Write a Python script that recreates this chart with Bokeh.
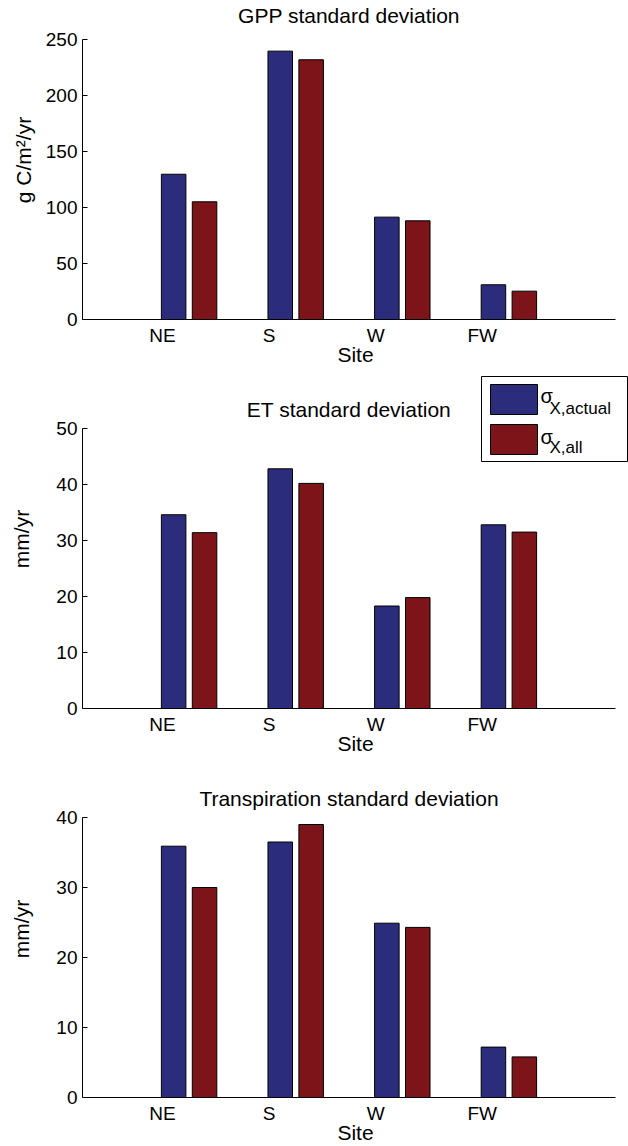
from bokeh.plotting import figure
from bokeh.models import Range1d, FixedTicker, Label, ColumnDataSource
from bokeh.layouts import column
from bokeh.embed import file_html
from bokeh.resources import INLINE

# ---------------- data ----------------
sites = ["NE", "S", "W", "FW"]
gpp_actual = [129.7, 239.6, 91.4, 31.0]
gpp_all = [105.1, 231.9, 88.1, 25.3]
et_actual = [34.6, 42.8, 18.3, 32.8]
et_all = [31.4, 40.2, 19.8, 31.5]
tr_actual = [35.9, 36.5, 24.9, 7.2]
tr_all = [30.0, 39.0, 24.3, 5.8]
series_names = ["X,actual", "X,all"]
gpp_ticks = [0, 50, 100, 150, 200, 250]
et_ticks = [0, 10, 20, 30, 40, 50]
tr_ticks = [0, 10, 20, 30, 40]

BLUE = "#2B2D7C"
RED = "#7D1419"
FONT = "Liberation Sans"
W = 628
FRAME_L = 82          # left edge of the data area
DATA_W = 533          # width of the data area (x 0..5)
DATA_H = 280          # height of the data area (y 0..ymax)
XMAX = 5.0
XPX = DATA_W / XMAX   # pixels per x unit
XEND = (W - FRAME_L) / XPX


def make_panel(title, ylabel, actual, allv, ticks, height, top, bottom,
               ylabel_standoff, title_px):
    """top = pixels between figure top and the top of the data area (ymax)."""
    ymax = ticks[-1]
    upp = ymax / DATA_H  # data units per pixel
    p = figure(width=W, height=height, x_range=Range1d(0, XEND),
               y_range=Range1d(0, ymax + top * upp), output_backend="svg",
               toolbar_location=None, min_border_left=FRAME_L,
               min_border_right=0, min_border_top=0,
               min_border_bottom=bottom, title=None)
    p.outline_line_color = None
    p.grid.visible = False
    p.background_fill_color = "white"
    p.border_fill_color = "white"

    xpos = [i + 1 for i in range(len(sites))]
    src = ColumnDataSource(dict(
        xa=[x - 0.145 for x in xpos], xb=[x + 0.145 for x in xpos],
        a=actual, b=allv))
    p.vbar(x="xa", top="a", bottom=0, width=0.23, source=src,
           fill_color=BLUE, line_color="black", line_width=1)
    p.vbar(x="xb", top="b", bottom=0, width=0.23, source=src,
           fill_color=RED, line_color="black", line_width=1)

    # x axis
    xa = p.xaxis[0]
    tick_pos = [x - 0.25 for x in xpos]
    xa.bounds = (0, XMAX)
    xa.ticker = FixedTicker(ticks=tick_pos)
    xa.major_label_overrides = {t: s for t, s in zip(tick_pos, sites)}
    xa.major_tick_in = 0
    xa.major_tick_out = 0
    xa.minor_tick_in = 0
    xa.minor_tick_out = 0
    xa.major_label_standoff = 5
    xa.major_label_text_font = FONT
    xa.major_label_text_font_size = "19px"
    xa.major_label_text_color = "black"
    xa.axis_line_color = "black"
    xa.axis_label = "Site"
    xa.axis_label_standoff = -6
    xa.axis_label_text_font = FONT
    xa.axis_label_text_font_size = "21px"
    xa.axis_label_text_font_style = "normal"
    xa.axis_label_text_color = "black"

    # y axis
    ya = p.yaxis[0]
    ya.bounds = (0, ymax)
    ya.ticker = FixedTicker(ticks=ticks)
    ya.major_tick_in = 5
    ya.major_tick_out = 0
    ya.minor_tick_in = 0
    ya.minor_tick_out = 0
    ya.major_label_standoff = 5
    ya.major_label_text_font = FONT
    ya.major_label_text_font_size = "19px"
    ya.major_label_text_color = "black"
    ya.axis_line_color = "black"
    ya.axis_label = ylabel
    ya.axis_label_text_font = FONT
    ya.axis_label_text_font_size = "21px"
    ya.axis_label_text_font_style = "normal"
    ya.axis_label_text_color = "black"
    ya.axis_label_standoff = ylabel_standoff

    p.add_layout(Label(x=XMAX / 2, y=ymax + title_px * upp, text=title,
                       text_align="center", text_baseline="middle",
                       text_font=FONT, text_font_size="21px",
                       text_color="black"))
    return p, upp


p1, u1 = make_panel("GPP standard deviation", "g C/m²/yr", gpp_actual, gpp_all,
                    gpp_ticks, 369, 39, 50, 8, 24)
p2, u2 = make_panel("ET standard deviation", "mm/yr", et_actual, et_all,
                    et_ticks, 391, 59, 52, 20, 19)
p3, u3 = make_panel("Transpiration standard deviation", "mm/yr", tr_actual, tr_all,
                    tr_ticks, 386, 57, 49, 20, 19.5)

# ---------------- legend (drawn in panel 2) ----------------
FIG2_TOP_ABS = 369
DATA2_TOP_ABS = FIG2_TOP_ABS + 59


def lx(px):
    return (px - FRAME_L) / XPX


def ly(py):
    return et_ticks[-1] + (DATA2_TOP_ABS - py) * u2


box = dict(left=[lx(481)], right=[lx(627)], top=[ly(376)], bottom=[ly(461)])
p2.quad(source=ColumnDataSource(box), left="left", right="right", top="top",
        bottom="bottom", fill_color="white", line_color="black", line_width=1)
sw = dict(left=[lx(490)] * 2, right=[lx(537)] * 2,
          top=[ly(384), ly(424)], bottom=[ly(414), ly(454)], color=[BLUE, RED])
p2.quad(source=ColumnDataSource(sw), left="left", right="right", top="top",
        bottom="bottom", fill_color="color", line_color="black", line_width=1)
for name, sb, subb in zip(series_names, [395, 436], [408, 447]):
    p2.add_layout(Label(x=lx(540), y=ly(sb), text="σ", text_align="left",
                        text_baseline="alphabetic", text_font=FONT,
                        text_font_size="20px", text_color="black"))
    p2.add_layout(Label(x=lx(549), y=ly(subb), text=name, text_align="left",
                        text_baseline="alphabetic", text_font=FONT,
                        text_font_size="17px", text_color="black"))

layout = column(p1, p2, p3, spacing=0)
open("out.html", "w").write(file_html(layout, INLINE))
